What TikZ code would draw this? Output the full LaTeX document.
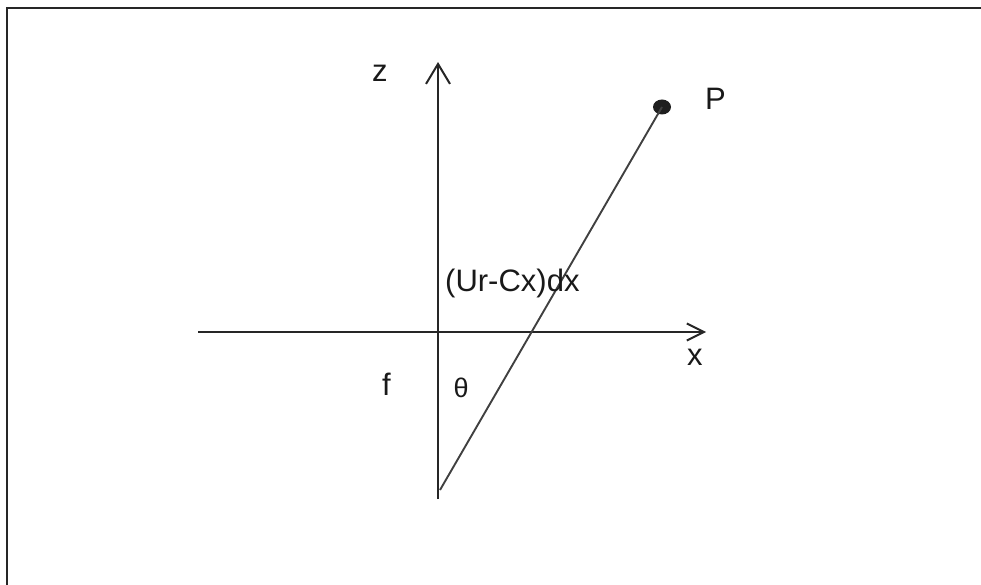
\documentclass[tikz,border=0pt]{standalone}
\usepackage{fontspec}
\setmainfont{Liberation Sans}
\usetikzlibrary{arrows.meta,shapes.geometric}
\begin{document}
\begin{tikzpicture}[x=1pt,y=-1pt,
  axis/.style={line width=2pt,draw=black!85},
  ray/.style={line width=1.9pt,draw=black!75},
  lbl/.style={inner sep=0pt,font=\fontsize{31}{36}\selectfont,text=black!90},
  frame/.style={line width=2.2pt,draw=black!85}]
\useasboundingbox (0,0) rectangle (981,585);
% frame (only top and left edges visible)
\coordinate (fa) at (7,585);
\coordinate (fb) at (7,8);
\coordinate (fc) at (981,8);
\draw[frame] (fa) -- (fb) -- (fc);
% axes
\coordinate (O) at (438,332);
\coordinate (ztop) at (438,62);
\coordinate (zbot) at (438,499);
\coordinate (xl) at (198,332);
\coordinate (xr) at (706,332);
\draw[axis,-{Straight Barb[length=20pt,width=24pt]}] (zbot) -- (ztop);
\draw[axis,-{Straight Barb[length=17pt,width=17pt]}] (xl) -- (xr);
% ray to P
\coordinate (S) at (440,490);
\node[ellipse,fill=black!88,minimum width=18pt,minimum height=15pt,inner sep=0pt] (dot) at (662,107) {};
\draw[ray] (S) -- (dot.center);
% labels
\node[lbl,anchor=base west] (Pl) at (705,110) {P};
\node[lbl,anchor=base west] (zl) at (372,82) {z};
\node[lbl,anchor=base west] (xlab) at (687,365) {x};
\node[lbl,anchor=base west] (fl) at (382,395) {f};
\node[inner sep=0pt,font=\fontsize{27}{30}\selectfont,text=black!90] (th) at (461,388) {θ};
\node[lbl,anchor=base west] (ux) at (445,291) {(Ur-Cx)dx};
\end{tikzpicture}
\end{document}
